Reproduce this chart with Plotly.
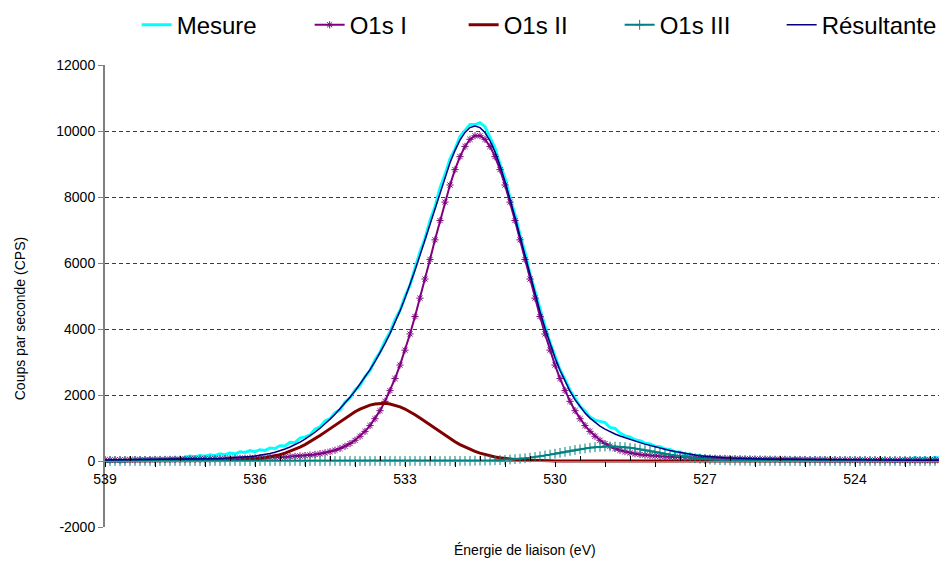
import plotly.graph_objects as go

# Énergie de liaison (eV), pas de 0.1 eV
energie = [
    539.0, 538.9, 538.8, 538.7, 538.6, 538.5, 538.4, 538.3, 538.2, 538.1,
    538.0, 537.9, 537.8, 537.7, 537.6, 537.5, 537.4, 537.3, 537.2, 537.1,
    537.0, 536.9, 536.8, 536.7, 536.6, 536.5, 536.4, 536.3, 536.2, 536.1,
    536.0, 535.9, 535.8, 535.7, 535.6, 535.5, 535.4, 535.3, 535.2, 535.1,
    535.0, 534.9, 534.8, 534.7, 534.6, 534.5, 534.4, 534.3, 534.2, 534.1,
    534.0, 533.9, 533.8, 533.7, 533.6, 533.5, 533.4, 533.3, 533.2, 533.1,
    533.0, 532.9, 532.8, 532.7, 532.6, 532.5, 532.4, 532.3, 532.2, 532.1,
    532.0, 531.9, 531.8, 531.7, 531.6, 531.5, 531.4, 531.3, 531.2, 531.1,
    531.0, 530.9, 530.8, 530.7, 530.6, 530.5, 530.4, 530.3, 530.2, 530.1,
    530.0, 529.9, 529.8, 529.7, 529.6, 529.5, 529.4, 529.3, 529.2, 529.1,
    529.0, 528.9, 528.8, 528.7, 528.6, 528.5, 528.4, 528.3, 528.2, 528.1,
    528.0, 527.9, 527.8, 527.7, 527.6, 527.5, 527.4, 527.3, 527.2, 527.1,
    527.0, 526.9, 526.8, 526.7, 526.6, 526.5, 526.4, 526.3, 526.2, 526.1,
    526.0, 525.9, 525.8, 525.7, 525.6, 525.5, 525.4, 525.3, 525.2, 525.1,
    525.0, 524.9, 524.8, 524.7, 524.6, 524.5, 524.4, 524.3, 524.2, 524.1,
    524.0, 523.9, 523.8, 523.7, 523.6, 523.5, 523.4, 523.3, 523.2, 523.1,
    523.0, 522.9, 522.8, 522.7, 522.6, 522.5, 522.4, 522.3, 522.2,
]

mesure = [
    -6, -25, 16, -33, -12, 49, 11, 62, 33, 74,
    26, 57, 18, 70, 92, 63, 115, 148, 130, 163,
    145, 188, 163, 217, 193, 239, 217, 277, 258, 313,
    281, 342, 319, 390, 377, 461, 453, 564, 554, 692,
    731, 790, 961, 1032, 1213, 1285, 1466, 1548, 1789, 1910,
    2151, 2284, 2559, 2737, 3070, 3293, 3636, 3901, 4282, 4558,
    4993, 5323, 5850, 6338, 6743, 7288, 7704, 8271, 8678, 9158,
    9452, 9833, 10017, 10194, 10194, 10253, 10132, 9784, 9487, 8994,
    8574, 7977, 7476, 6854, 6327, 5675, 5139, 4551, 4084, 3587,
    3200, 2768, 2471, 2144, 1908, 1659, 1514, 1329, 1238, 1208,
    1165, 1016, 987, 846, 761, 729, 641, 616, 541, 519,
    449, 430, 363, 348, 275, 275, 208, 214, 151, 172,
    105, 119, 67, 87, 57, 109, 32, 57, 12, 78,
    25, 52, 9, 76, 24, -8, 40, -2, 77, 26,
    -6, 53, 2, 21, 59, -2, 27, -14, 45, 4,
    24, 63, 12, 41, 0, 70, 19, 48, -12, 37,
    76, 46, 105, 65, 94, 54, 113, 83, 122,
]

o1s_i = [
    34, 35, 36, 37, 38, 39, 41, 42, 43, 44,
    46, 47, 48, 50, 52, 53, 55, 57, 59, 61,
    63, 65, 68, 70, 73, 76, 79, 82, 85, 89,
    93, 97, 102, 107, 112, 118, 125, 133, 142, 152,
    164, 179, 198, 220, 248, 283, 326, 380, 446, 528,
    628, 750, 898, 1073, 1281, 1525, 1808, 2132, 2498, 2907,
    3359, 3850, 4378, 4935, 5515, 6108, 6702, 7286, 7845, 8364,
    8829, 9223, 9533, 9747, 9856, 9856, 9747, 9533, 9223, 8829,
    8364, 7845, 7286, 6702, 6108, 5515, 4935, 4378, 3850, 3359,
    2907, 2498, 2132, 1808, 1525, 1281, 1073, 898, 750, 628,
    528, 446, 380, 326, 283, 248, 220, 198, 179, 164,
    152, 142, 133, 125, 118, 112, 107, 102, 97, 93,
    89, 85, 82, 79, 76, 73, 70, 68, 65, 63,
    61, 59, 57, 55, 53, 52, 50, 48, 47, 46,
    44, 43, 42, 41, 39, 38, 37, 36, 35, 34,
    34, 33, 32, 31, 30, 30, 29, 28, 28, 27,
    26, 26, 25, 25, 24, 24, 23, 23, 22,
]

o1s_ii = [
    0, 0, 0, 0, 0, 0, 0, 0, 0, 0,
    0, 0, 0, 0, 0, 0, 0, 1, 1, 2,
    2, 3, 5, 7, 10, 13, 18, 25, 33, 44,
    58, 75, 97, 123, 155, 193, 238, 291, 352, 420,
    497, 581, 673, 772, 875, 982, 1090, 1198, 1303, 1402,
    1493, 1574, 1641, 1694, 1729, 1748, 1748, 1729, 1694, 1641,
    1574, 1493, 1402, 1303, 1198, 1090, 982, 875, 772, 673,
    581, 497, 420, 352, 291, 238, 193, 155, 123, 97,
    75, 58, 44, 33, 25, 18, 13, 10, 7, 5,
    3, 2, 2, 1, 1, 0, 0, 0, 0, 0,
    0, 0, 0, 0, 0, 0, 0, 0, 0, 0,
    0, 0, 0, 0, 0, 0, 0, 0, 0, 0,
    0, 0, 0, 0, 0, 0, 0, 0, 0, 0,
    0, 0, 0, 0, 0, 0, 0, 0, 0, 0,
    0, 0, 0, 0, 0, 0, 0, 0, 0, 0,
    0, 0, 0, 0, 0, 0, 0, 0, 0, 0,
    0, 0, 0, 0, 0, 0, 0, 0, 0,
]

o1s_iii = [
    0, 0, 0, 0, 0, 0, 0, 0, 0, 0,
    0, 0, 0, 0, 0, 0, 0, 0, 0, 0,
    0, 0, 0, 0, 0, 0, 0, 0, 0, 0,
    0, 0, 0, 0, 0, 0, 0, 0, 0, 0,
    0, 0, 0, 0, 0, 0, 0, 0, 0, 0,
    0, 0, 0, 0, 0, 0, 0, 0, 0, 0,
    0, 0, 0, 0, 0, 0, 0, 0, 1, 1,
    2, 3, 4, 5, 7, 9, 12, 16, 21, 28,
    35, 44, 56, 69, 84, 102, 121, 143, 167, 193,
    220, 248, 277, 305, 332, 358, 381, 401, 418, 430,
    437, 440, 437, 430, 418, 401, 381, 358, 332, 305,
    277, 248, 220, 193, 167, 143, 121, 102, 84, 69,
    56, 44, 35, 28, 21, 16, 12, 9, 7, 5,
    4, 3, 2, 1, 1, 0, 0, 0, 0, 0,
    0, 0, 0, 0, 0, 0, 0, 0, 0, 0,
    0, 0, 0, 0, 0, 0, 0, 0, 0, 0,
    0, 0, 0, 0, 0, 0, 0, 0, 0,
]

resultante = [
    34, 35, 36, 37, 38, 39, 41, 42, 43, 44,
    46, 47, 48, 50, 52, 53, 55, 58, 60, 63,
    65, 68, 73, 77, 83, 89, 97, 107, 118, 133,
    151, 172, 199, 230, 267, 311, 363, 424, 494, 572,
    661, 760, 871, 992, 1123, 1265, 1416, 1578, 1749, 1930,
    2121, 2324, 2539, 2767, 3010, 3273, 3556, 3861, 4192, 4548,
    4933, 5343, 5780, 6238, 6713, 7198, 7684, 8161, 8618, 9038,
    9412, 9723, 9957, 10104, 10154, 10103, 9952, 9704, 9367, 8954,
    8474, 7947, 7386, 6804, 6217, 5635, 5069, 4531, 4024, 3557,
    3130, 2748, 2411, 2114, 1858, 1639, 1454, 1299, 1168, 1058,
    965, 886, 817, 756, 701, 649, 601, 556, 511, 469,
    429, 390, 353, 318, 285, 255, 228, 204, 181, 162,
    145, 129, 117, 107, 97, 89, 82, 77, 72, 68,
    65, 62, 59, 56, 54, 52, 50, 48, 47, 46,
    44, 43, 42, 41, 39, 38, 37, 36, 35, 34,
    34, 33, 32, 31, 30, 30, 29, 28, 28, 27,
    26, 26, 25, 25, 24, 24, 23, 23, 22,
]

# graduations de l'axe des énergies (étiquette tous les 3 eV)
graduations = [539, 538, 537, 536, 535, 534, 533, 532, 531, 530, 529, 528, 527, 526, 525, 524, 523]
etiquettes = ["539", "", "", "536", "", "", "533", "", "", "530", "", "", "527", "", "", "524", ""]

# graduations de l'axe des coups
graduations_y = [-2000, 0, 2000, 4000, 6000, 8000, 10000, 12000]
etiquettes_y = ["-2000", "0", "2000", "4000", "6000", "8000", "10000", "12000"]

police = "Liberation Sans, Arial, sans-serif"

fig = go.Figure()

fig.add_trace(go.Scatter(
    x=energie, y=mesure, name="Mesure", mode="lines",
    line=dict(color="#00FFFF", width=3), legendwidth=128,
))
fig.add_trace(go.Scatter(
    x=energie, y=o1s_i, name="O1s I", mode="lines+markers",
    line=dict(color="#800080", width=2),
    marker=dict(symbol="asterisk-open", size=6, color="#800080",
                line=dict(width=1, color="#800080")),
    legendwidth=109,
))
fig.add_trace(go.Scatter(
    x=energie, y=o1s_ii, name="O1s II", mode="lines",
    line=dict(color="#800000", width=3), legendwidth=111,
))
fig.add_trace(go.Scatter(
    x=energie, y=o1s_iii, name="O1s III", mode="lines+markers",
    line=dict(color="#008080", width=2),
    marker=dict(symbol="cross-thin-open", size=7, color="#008080",
                line=dict(width=1, color="#008080")),
    legendwidth=117,
))
fig.add_trace(go.Scatter(
    x=energie, y=resultante, name="Résultante", mode="lines",
    line=dict(color="#000080", width=1.5), legendwidth=112,
))

# la page HTML ajoute une marge de 8 px : la figure est réduite d'autant
fig.update_layout(
    width=939, height=554,
    margin=dict(l=97, r=2, t=57, b=35, autoexpand=False),
    plot_bgcolor="white", paper_bgcolor="white",
    font=dict(family=police, size=14, color="black"),
    showlegend=True,
    legend=dict(
        orientation="h", xref="container", yref="container",
        x=0.137, xanchor="left", y=0.969, yanchor="middle",
        font=dict(size=24, family=police), itemwidth=30,
        bgcolor="rgba(0,0,0,0)",
    ),
    xaxis=dict(
        range=[539, 522.2], anchor="free", position=1 / 7,
        tickmode="array", tickvals=graduations, ticktext=etiquettes,
        ticks="outside", ticklen=5, tickcolor="black", tickwidth=1,
        showline=True, linecolor="#808080", linewidth=1,
        showgrid=False, zeroline=False,
        minor=dict(tickmode="linear", tick0=0.5, dtick=1, ticks="inside",
                   ticklen=5, tickcolor="black", showgrid=False),
    ),
    yaxis=dict(
        range=[-2000, 12000], tickmode="array",
        tickvals=graduations_y, ticktext=etiquettes_y,
        ticks="outside", ticklen=5, tickcolor="#808080",
        showline=True, linecolor="#808080", linewidth=2,
        showgrid=True, gridcolor="#3c3c3c", gridwidth=1, griddash="4px,3px",
        zeroline=False,
    ),
    annotations=[
        dict(text="Énergie de liaison (eV)", xref="paper", yref="paper",
             x=0.5, y=-0.05, xanchor="center", yanchor="middle",
             showarrow=False, font=dict(size=14)),
        dict(text="Coups par seconde (CPS)", xref="paper", yref="paper",
             x=-0.101, y=0.45, xanchor="center", yanchor="middle",
             textangle=-90, showarrow=False, font=dict(size=14)),
    ],
)

fig.write_html("out.html")
